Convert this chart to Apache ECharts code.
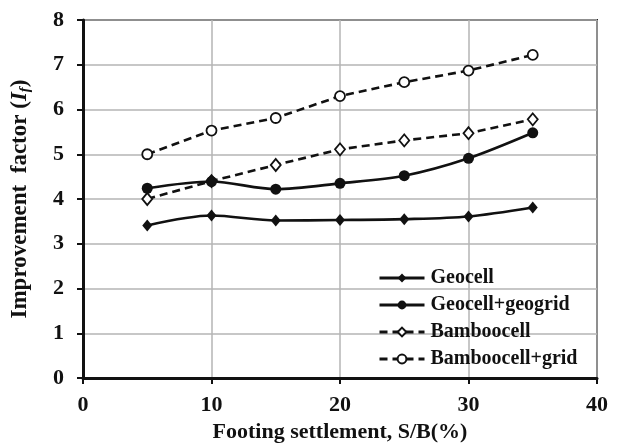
<!DOCTYPE html>
<html>
<head>
<meta charset="utf-8">
<script src="https://cdn.jsdelivr.net/npm/echarts@6/dist/echarts.min.js"></script>
<style>
  html, body { margin: 0; padding: 0; background: #fff; }
  #chart { width: 626px; height: 448px; }
</style>
</head>
<body>
<div id="chart"></div>
<script>
// Settlement ratio S/B (%) at which improvement factors were measured
const settlement = [5, 10, 15, 20, 25, 30, 35];

// Improvement factor I_f for each reinforcement type
const geocell = [3.41, 3.63, 3.52, 3.53, 3.55, 3.61, 3.81];
const geocellGeogrid = [4.24, 4.39, 4.22, 4.35, 4.52, 4.91, 5.48];
const bamboocell = [4.00, 4.40, 4.76, 5.11, 5.31, 5.47, 5.78];
const bamboocellGrid = [5.00, 5.53, 5.81, 6.30, 6.61, 6.87, 7.22];

const seriesNames = ['Geocell', 'Geocell+geogrid', 'Bamboocell', 'Bamboocell+grid'];

const FONT = 'Liberation Serif';

function pairs(ys) {
  return settlement.map((x, i) => [x, ys[i]]);
}

function lineSeries(name, ys, opts) {
  return {
    name: name,
    type: 'line',
    data: pairs(ys),
    smooth: opts.smooth || false,
    symbol: opts.symbol,
    symbolSize: opts.size,
    showAllSymbol: true,
    lineStyle: { color: '#111', width: 2.6, type: opts.dashed ? [8, 5] : 'solid' },
    itemStyle: {
      color: opts.hollow ? '#fff' : '#111',
      borderColor: '#111',
      borderWidth: opts.hollow ? 1.8 : 0
    },
    emphasis: { disabled: true },
    z: opts.z
  };
}

const chart = echarts.init(document.getElementById('chart'), null, { renderer: 'canvas' });

chart.setOption({
  animation: false,
  backgroundColor: '#fff',
  grid: { left: 83, right: 29, top: 20, bottom: 68, show: true, borderColor: '#222', borderWidth: 2 },
  legend: {
    data: seriesNames,
    orient: 'vertical',
    left: 373,
    top: 263,
    itemWidth: 45,
    itemHeight: 11,
    itemGap: 7,
    lineStyle: { width: 3 },
    textStyle: { fontFamily: FONT, fontWeight: 'bold', fontSize: 20, color: '#111', padding: [0, 0, 0, 1] }
  },
  xAxis: {
    type: 'value',
    min: 0, max: 40, interval: 10,
    name: 'Footing settlement, S/B(%)',
    nameLocation: 'middle',
    nameGap: 43,
    nameTextStyle: { fontFamily: FONT, fontWeight: 'bold', fontSize: 22, color: '#111' },
    axisLine: { show: true, onZero: false, lineStyle: { color: '#111', width: 3 } },
    axisTick: { show: true, inside: false, length: 6, lineStyle: { color: '#111', width: 2 } },
    axisLabel: { fontFamily: FONT, fontWeight: 'bold', fontSize: 22, color: '#111', margin: 16 },
    splitLine: { show: true, lineStyle: { color: '#b4b4b4', width: 1.5 } }
  },
  yAxis: {
    type: 'value',
    min: 0, max: 8, interval: 1,
    name: '{t|Improvement  factor (}{i|I}{s|f}{t|)}',
    nameLocation: 'middle',
    nameGap: 50,
    nameRotate: 90,
    nameTextStyle: {
      rich: {
        t: { fontFamily: FONT, fontWeight: 'bold', fontSize: 23, color: '#111' },
        i: { fontFamily: FONT, fontWeight: 'bold', fontStyle: 'italic', fontSize: 23, color: '#111' },
        s: { fontFamily: FONT, fontWeight: 'bold', fontStyle: 'italic', fontSize: 15, color: '#111', padding: [10, 0, 0, 0] }
      }
    },
    axisLine: { show: true, onZero: false, lineStyle: { color: '#111', width: 3 } },
    axisTick: { show: true, inside: false, length: 6, lineStyle: { color: '#111', width: 2 } },
    axisLabel: { fontFamily: FONT, fontWeight: 'bold', fontSize: 22, color: '#111', margin: 19 },
    splitLine: { show: true, lineStyle: { color: '#b4b4b4', width: 1.5 } }
  },
  series: [
    lineSeries(seriesNames[0], geocell, { symbol: 'diamond', size: [10, 12], smooth: 0.3, z: 4 }),
    lineSeries(seriesNames[1], geocellGeogrid, { symbol: 'circle', size: 11, smooth: 0.3, z: 5 }),
    lineSeries(seriesNames[2], bamboocell, { symbol: 'diamond', size: [10, 12], dashed: true, hollow: true, z: 3 }),
    lineSeries(seriesNames[3], bamboocellGrid, { symbol: 'circle', size: 10, dashed: true, hollow: true, z: 3 })
  ]
});
</script>
</body>
</html>
